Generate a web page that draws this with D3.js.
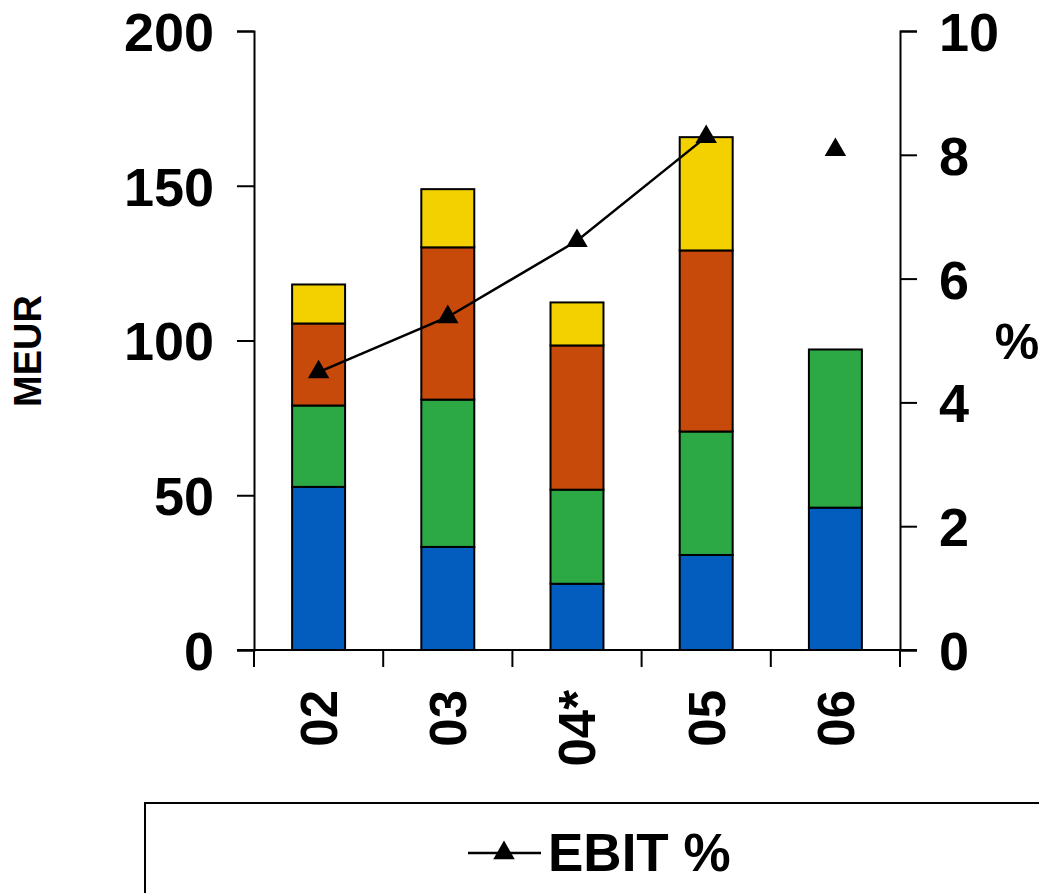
<!DOCTYPE html>
<html><head><meta charset="utf-8">
<script src="https://cdn.jsdelivr.net/npm/d3@7"></script>
<style>body{margin:0;background:#fff}svg{display:block}text{font-family:"Liberation Sans",Arial,sans-serif;font-weight:bold;fill:#000}</style>
</head><body><svg id="c" width="1039" height="893"></svg>
<script>
const categories = ["02","03","04*","05","06"];
const seriesNames = ["s1","s2","s3","s4"];
const blueVals   = [52.7, 33.3, 21.4, 30.7, 46.0];
const greenVals  = [26.3, 47.6, 30.4, 39.9, 51.1];
const redVals    = [26.5, 49.2, 46.6, 58.5, 0];
const yellowVals = [12.6, 18.8, 13.9, 36.6, 0];
const ebitVals   = [4.49, 5.38, 6.61, 8.29, 8.08];
const leftTicks  = [0, 50, 100, 150, 200];
const rightTicks = [0, 2, 4, 6, 8, 10];
const colors = ["#035DBE", "#2CA845", "#C74A0B", "#F3D100"];

const svg = d3.select("#c");
const x = d3.scaleBand().domain(categories).range([254, 900]).paddingInner(0.59).paddingOuter(0.295);
const yL = d3.scaleLinear().domain([0, 200]).range([650, 31]);
const yR = d3.scaleLinear().domain([0, 10]).range([650, 31]);

const rows = categories.map((c, i) => ({cat: c, s1: blueVals[i], s2: greenVals[i], s3: redVals[i], s4: yellowVals[i]}));
const stacked = d3.stack().keys(seriesNames)(rows);

stacked.forEach((layer, li) => {
  svg.append("g").selectAll("rect").data(layer.filter(d => d[1] - d[0] > 0)).join("rect")
    .attr("x", d => x(d.data.cat)).attr("width", x.bandwidth())
    .attr("y", d => yL(d[1])).attr("height", d => yL(d[0]) - yL(d[1]))
    .attr("fill", colors[li]).attr("stroke", "#000").attr("stroke-width", 2);
});

// Axes
const gL = svg.append("g").attr("transform", "translate(254,0)")
  .call(d3.axisLeft(yL).tickValues(leftTicks).tickSize(17).tickPadding(23));
const gR = svg.append("g").attr("transform", "translate(900,0)")
  .call(d3.axisRight(yR).tickValues(rightTicks).tickSize(17).tickPadding(22));
[gL, gR].forEach(g => {
  g.select(".domain").attr("stroke", "#000").attr("stroke-width", 2);
  g.selectAll(".tick line").attr("stroke", "#000").attr("stroke-width", 2);
  g.selectAll(".tick text").style("font-size", "54px").attr("fill", "#000").attr("dy", "0.36em");
});

// Bottom axis
const gB = svg.append("g").attr("transform", "translate(0,650)");
gB.append("line").attr("x1", 237).attr("x2", 917).attr("y1", 0).attr("y2", 0).attr("stroke", "#000").attr("stroke-width", 2);
const bounds = categories.map(c => x(c) - x.step() * x.paddingInner() / 2).concat([x(categories[categories.length-1]) + x.bandwidth() + x.step() * x.paddingInner() / 2]);
gB.selectAll("line.t").data(bounds).join("line").attr("class", "t")
  .attr("x1", d => d).attr("x2", d => d).attr("y1", 0).attr("y2", 17).attr("stroke", "#000").attr("stroke-width", 2);
gB.selectAll("text").data(categories).join("text")
  .attr("transform", d => `translate(${x(d) + x.bandwidth()/2},40) rotate(-90)`)
  .attr("text-anchor", "end").attr("dy", "0.36em").style("font-size", "51px").text(d => d);

// EBIT line
const pts = categories.map((c, i) => ({cat: c, v: ebitVals[i]}));
const connected = pts.slice(0, 4);
svg.append("path").datum(connected)
  .attr("d", d3.line().x(d => x(d.cat) + x.bandwidth()/2).y(d => yR(d.v)))
  .attr("fill", "none").attr("stroke", "#000").attr("stroke-width", 2.5);
const tri = d3.symbol().type(d3.symbolTriangle).size(200);
svg.append("g").selectAll("path").data(pts).join("path")
  .attr("d", tri).attr("transform", d => `translate(${x(d.cat) + x.bandwidth()/2},${yR(d.v)})`).attr("fill", "#000");

// Axis titles
svg.append("text").attr("transform", "translate(41,351) rotate(-90)").attr("text-anchor", "middle").style("font-size", "38px").text("MEUR");
svg.append("text").attr("x", 1017).attr("y", 359).attr("text-anchor", "middle").style("font-size", "50px").text("%");

// Legend
svg.append("rect").attr("x", 145).attr("y", 803).attr("width", 1000).attr("height", 200).attr("fill", "none").attr("stroke", "#000").attr("stroke-width", 2);
svg.append("line").attr("x1", 468).attr("x2", 541).attr("y1", 853).attr("y2", 853).attr("stroke", "#000").attr("stroke-width", 2.5);
svg.append("path").attr("d", tri).attr("transform", "translate(504,853)").attr("fill", "#000");
svg.append("text").attr("x", 548).attr("y", 871).style("font-size", "53px").text("EBIT %");
</script></body></html>
